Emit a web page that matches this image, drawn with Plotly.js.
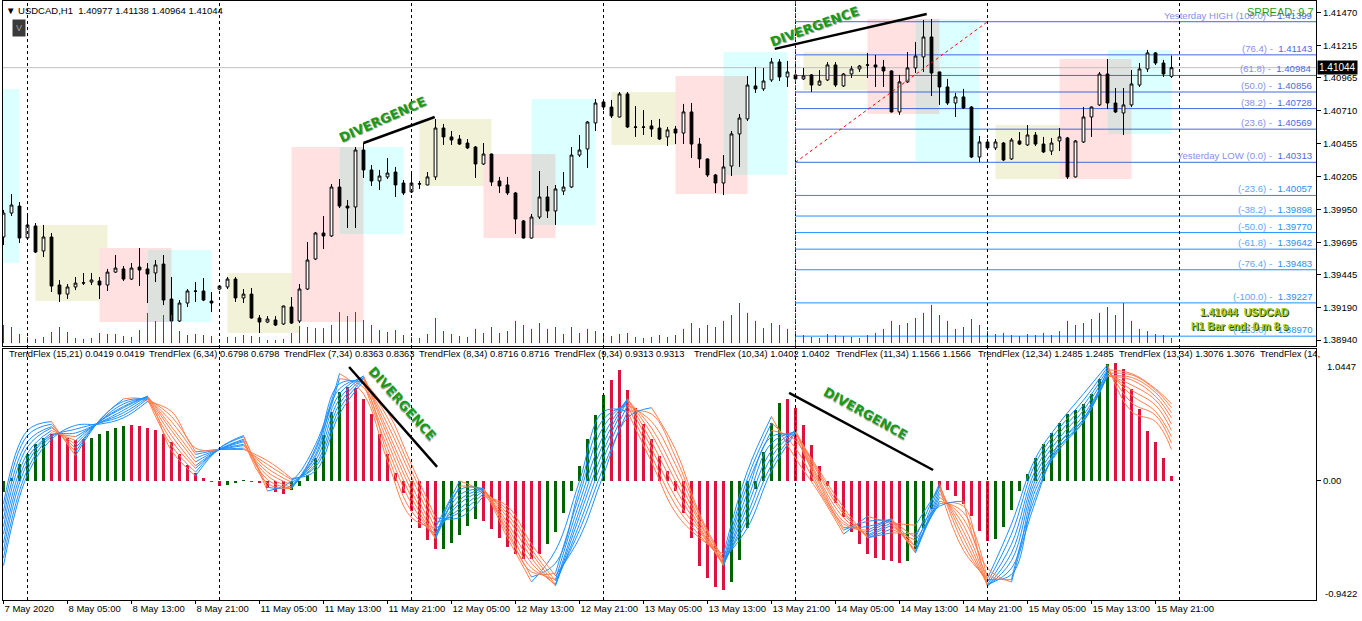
<!DOCTYPE html>
<html>
<head>
<meta charset="utf-8">
<script src="https://cdn.plot.ly/plotly-3.0.1.min.js"></script>
<style>
html,body{margin:0;padding:0;background:#fff;}
#chart{width:1362px;height:621px;}
</style>
</head>
<body>
<div id="chart"></div>
<script>
// ---------------- DATA ----------------
const symbolTitle = '\u25BC USDCAD,H1  1.40977 1.41138 1.40964 1.41044';
const lastPrice = 1.41044;
const spreadText = 'SPREAD: 9.7';
const infoLine1 = '1.41044  USDCAD';
const infoLine2 = 'H1 Bar end: 0 m 8 s';

const barOpen = [1.39736,1.39921,1.39975,1.39728,1.39821,1.39628,1.39736,1.39365,1.39295,1.39350,
1.39380,1.39388,1.39396,1.39365,1.39465,1.39489,1.39411,1.39504,1.39489,1.39458,
1.39527,1.39257,1.39087,1.39226,1.39319,1.39319,1.39241,1.39334,1.39350,1.39411,
1.39265,1.39295,1.39110,1.39079,1.39095,1.39064,1.39195,1.39087,1.39334,1.39566,
1.39767,1.39744,1.40122,1.39975,1.39968,1.40408,1.40254,1.40169,1.40200,1.40238,
1.40153,1.40084,1.40145,1.40138,1.40200,1.40578,1.40509,1.40493,1.40462,1.40431,
1.40300,1.40377,1.40169,1.40138,1.40076,1.39860,1.39728,1.39890,1.40045,1.39937,
1.40091,1.40122,1.40369,1.40416,1.40617,1.40779,1.40740,1.40663,1.40841,1.40586,
1.40586,1.40594,1.40578,1.40509,1.40570,1.40539,1.40702,1.40454,1.40339,1.40215,
1.40153,1.40284,1.40532,1.40648,1.40903,1.40880,1.40949,1.41088,1.40972,1.40988,
1.40957,1.40988,1.40910,1.40949,1.41065,1.40903,1.40995,1.41034,1.41063,1.41065,
1.41049,1.41019,1.40702,1.40934,1.41042,1.41127,1.41281,1.41011,1.40895,1.40771,
1.40818,1.40740,1.40354,1.40470,1.40424,1.40462,1.40339,1.40478,1.40447,1.40524,
1.40454,1.40400,1.40478,1.40501,1.40200,1.40470,1.40663,1.40756,1.40995,1.40771,
1.40694,1.40756,1.40910,1.41034,1.41158,1.41080,1.40977];
const barHigh = [1.39945,1.40068,1.40006,1.39898,1.39844,1.39829,1.39767,1.39404,1.39373,1.39427,
1.39458,1.39458,1.39427,1.39489,1.39597,1.39512,1.39535,1.39651,1.39535,1.39558,
1.39597,1.39427,1.39249,1.39334,1.39388,1.39419,1.39311,1.39365,1.39427,1.39427,
1.39334,1.39342,1.39133,1.39125,1.39125,1.39206,1.39272,1.39373,1.39697,1.39775,
1.39898,1.40145,1.40184,1.40022,1.40431,1.40462,1.40292,1.40254,1.40346,1.40277,
1.40176,1.40246,1.40169,1.40238,1.40648,1.40609,1.40555,1.40524,1.40493,1.40439,
1.40462,1.40380,1.40200,1.40200,1.40084,1.39867,1.39914,1.40246,1.40130,1.40138,
1.40238,1.40431,1.40524,1.40632,1.40802,1.40802,1.40795,1.40856,1.40856,1.40748,
1.40717,1.40640,1.40648,1.40586,1.40594,1.40764,1.40771,1.40501,1.40342,1.40223,
1.40369,1.40555,1.40686,1.40980,1.41049,1.41042,1.41119,1.41111,1.41096,1.41065,
1.41042,1.40995,1.41026,1.41088,1.41088,1.41003,1.41057,1.41065,1.41158,1.41142,
1.41104,1.41022,1.40988,1.41165,1.41243,1.41413,1.41420,1.41013,1.40957,1.40849,
1.40880,1.40748,1.40516,1.40493,1.40493,1.40470,1.40501,1.40547,1.40601,1.40547,
1.40509,1.40501,1.40578,1.40509,1.40485,1.40740,1.40745,1.41011,1.41111,1.40887,
1.40887,1.41026,1.41080,1.41181,1.41165,1.41104,1.41138];
const barLow = [1.39674,1.39898,1.39690,1.39713,1.39612,1.39581,1.39311,1.39234,1.39257,1.39326,
1.39365,1.39365,1.39257,1.39319,1.39458,1.39396,1.39404,1.39357,1.39226,1.39388,
1.39210,1.39071,1.39079,1.39195,1.39234,1.39241,1.39156,1.39326,1.39334,1.39234,
1.39226,1.39105,1.38994,1.39071,1.39048,1.39056,1.39064,1.39071,1.39326,1.39558,
1.39643,1.39736,1.39960,1.39805,1.39805,1.40192,1.40130,1.40099,1.40184,1.40045,
1.40060,1.40076,1.40107,1.40136,1.40176,1.40447,1.40447,1.40447,1.40416,1.40192,
1.40292,1.40130,1.40076,1.40060,1.39759,1.39724,1.39724,1.39875,1.39883,1.39829,
1.40060,1.40114,1.40354,1.40269,1.40555,1.40717,1.40655,1.40660,1.40578,1.40509,
1.40524,1.40509,1.40485,1.40439,1.40454,1.40454,1.40346,1.40269,1.40200,1.40076,
1.40060,1.40207,1.40277,1.40632,1.40849,1.40864,1.40934,1.40941,1.40895,1.40934,
1.40949,1.40856,1.40903,1.40941,1.40895,1.40895,1.40964,1.41011,1.40964,1.40895,
1.40895,1.40698,1.40679,1.40926,1.41003,1.41011,1.40825,1.40756,1.40756,1.40663,
1.40725,1.40346,1.40315,1.40416,1.40408,1.40323,1.40331,1.40447,1.40439,1.40439,
1.40385,1.40369,1.40400,1.40184,1.40196,1.40462,1.40509,1.40748,1.40725,1.40694,
1.40524,1.40740,1.40895,1.41011,1.41065,1.40972,1.40964];
const barClose = [1.39921,1.39983,1.39728,1.39829,1.39620,1.39736,1.39357,1.39295,1.39350,1.39380,
1.39382,1.39404,1.39365,1.39465,1.39496,1.39411,1.39496,1.39481,1.39450,1.39520,
1.39249,1.39087,1.39226,1.39319,1.39317,1.39249,1.39226,1.39357,1.39411,1.39265,
1.39295,1.39110,1.39079,1.39102,1.39056,1.39203,1.39071,1.39334,1.39558,1.39767,
1.39744,1.40122,1.39975,1.39960,1.40408,1.40254,1.40169,1.40207,1.40230,1.40138,
1.40076,1.40153,1.40147,1.40200,1.40578,1.40509,1.40485,1.40454,1.40424,1.40300,
1.40377,1.40161,1.40130,1.40076,1.39875,1.39728,1.39890,1.40045,1.39937,1.40107,
1.40122,1.40369,1.40408,1.40624,1.40771,1.40740,1.40671,1.40841,1.40586,1.40584,
1.40584,1.40570,1.40493,1.40563,1.40539,1.40702,1.40454,1.40339,1.40215,1.40153,
1.40277,1.40532,1.40655,1.40910,1.40880,1.40941,1.41088,1.40972,1.41011,1.40957,
1.40980,1.40910,1.40941,1.41065,1.40910,1.40995,1.41034,1.41057,1.41065,1.41049,
1.41019,1.40702,1.40934,1.41042,1.41134,1.41281,1.41003,1.40895,1.40771,1.40818,
1.40733,1.40354,1.40470,1.40424,1.40470,1.40331,1.40485,1.40454,1.40524,1.40454,
1.40393,1.40462,1.40509,1.40200,1.40478,1.40663,1.40740,1.40995,1.40771,1.40702,
1.40756,1.40918,1.41034,1.41158,1.41080,1.40995,1.41044];
const tickVolume = [1080,960,540,360,240,360,660,960,660,300,
240,300,600,540,540,420,360,780,1800,1320,
1680,1680,720,480,540,480,420,180,360,360,
480,420,360,180,180,240,600,1020,960,900,
900,1080,1860,1620,1860,1380,1080,780,660,780,
480,360,300,540,1500,720,540,420,360,840,
600,960,600,720,1320,1080,840,1200,840,960,
540,960,600,840,720,480,420,540,600,360,
300,360,480,360,480,840,1200,900,1080,960,
1320,1680,2400,1800,1320,900,1200,1080,840,600,
480,360,300,540,480,420,360,300,480,600,
840,1320,1080,1200,1500,1800,2280,1680,1320,840,
960,1440,1080,720,540,600,480,420,540,480,
600,480,720,1320,1080,1200,1440,1800,2160,1680,
2400,1320,840,720,540,480,300];

const timeTickBars = [0,8,16,24,32,40,48,56,64,72,80,88,96,104,112,120,128,136,144];
const timeTickLabels = ['7 May 2020','8 May 05:00','8 May 13:00','8 May 21:00','11 May 05:00','11 May 13:00',
'11 May 21:00','12 May 05:00','12 May 13:00','12 May 21:00','13 May 05:00','13 May 13:00','13 May 21:00',
'14 May 05:00','14 May 13:00','14 May 21:00','15 May 05:00','15 May 13:00','15 May 21:00'];
const priceTicks = [1.41470,1.41215,1.40965,1.40710,1.40455,1.40205,1.39950,1.39695,1.39445,1.39190,1.38940];
const priceTickLabels = ['1.41470','1.41215','1.40965','1.40710','1.40455','1.40205','1.39950','1.39695','1.39445','1.39190','1.38940'];
const daySeparatorBars = [3,27,51,75,99,123,147];

// session boxes
const sessionKind  = ['ny','asia','london','ny','asia','london','ny','asia','london','ny','asia','london','ny','asia','london','ny','asia','london','ny'];
const sessionStart = [-6,4,12,18,28,36,42,52,60,66,76,84,90,100,108,114,124,132,138];
const sessionEnd   = [2,13,21,26,37,45,50,61,69,74,85,93,98,109,117,122,133,141,146];
const sessionHigh  = [1.40880,1.39829,1.39651,1.39635,1.39458,1.40431,1.40431,1.40648,1.40377,1.40802,1.40856,1.40980,1.41165,1.41165,1.41420,1.41420,1.40601,1.41111,1.41181];
const sessionLow   = [1.39535,1.39241,1.39079,1.39079,1.38994,1.39079,1.39759,1.40130,1.39728,1.39829,1.40447,1.40068,1.40215,1.40872,1.40686,1.40323,1.40184,1.40184,1.40532];

// yesterday fibo
const fibLevels = [100,76.4,61.8,50,38.2,23.6,0,-23.6,-38.2,-50,-61.8,-76.4,-100,-123.6];
const fibPrices = [1.41399,1.41143,1.40984,1.40856,1.40728,1.40569,1.40313,1.40057,1.39898,1.39770,1.39642,1.39483,1.39227,1.38970];
const fibStartBar = 99;
const fibDiagEndBar = 123;

// divergence trend lines [bar0, value0, bar1, value1]
const priceDivergence = [[45.0,1.40462,53.9,1.40663],[96.4,1.41189,115.4,1.41459]];
const oscDivergence = [[43.2,0.902,54.2,0.111],[98.2,0.697,116.2,0.087]];
const priceDivText = [[47.4,1.40640,-24],[101.4,1.41359,-20]];
const oscDivText = [[49.9,0.617,48],[107.8,0.538,29]];

// TrendFlex histogram (15,21)
const tfHist = [-0.084,0.021,0.132,0.216,0.296,0.338,0.375,0.375,0.343,0.322,
0.330,0.343,0.375,0.396,0.422,0.435,0.443,0.435,0.422,0.404,
0.375,0.309,0.211,0.127,0.063,0.026,-0.011,-0.040,-0.034,-0.018,
0.005,-0.005,-0.018,-0.053,-0.084,-0.100,-0.074,-0.040,0.048,0.179,
0.364,0.549,0.707,0.744,0.739,0.652,0.528,0.375,0.216,0.066,
-0.092,-0.238,-0.369,-0.470,-0.536,-0.536,-0.488,-0.428,-0.36,-0.30,
-0.32,-0.38,-0.45,-0.52,-0.58,-0.62,-0.62,-0.58,-0.50,-0.40,
-0.25,-0.08,0.12,0.33,0.52,0.68,0.80,0.88,0.72,0.58,
0.45,0.33,0.20,0.08,-0.08,-0.25,-0.45,-0.673,-0.765,-0.839,
-0.866,-0.797,-0.625,-0.369,-0.066,0.230,0.462,0.620,0.652,0.581,
0.443,0.285,0.119,-0.040,-0.172,-0.285,-0.404,-0.501,-0.575,-0.612,
-0.628,-0.633,-0.647,-0.633,-0.541,-0.369,-0.224,-0.053,-0.074,-0.119,
-0.185,-0.277,-0.396,-0.475,-0.462,-0.362,-0.232,-0.079,0.053,0.185,
0.296,0.383,0.462,0.528,0.559,0.612,0.691,0.805,0.924,0.937,
0.884,0.726,0.567,0.396,0.309,0.185,0.0419];
const tfHistState = ('GGGGGG'+'RRRRR'+'GGGGG'+'RRRRRRRRRRRR'+'GGG'+'RRRRR'+'GGGGGGG'+'RRRRRRRRRRRR'+
  'GGGGG'+'RRRRRRRR'+'GGGGGGGG'+'RRRRRRRRRRRRRRR'+'GGGGGGG'+'RRRRRRRRRRRRRRR'+'GGGG'+'RRRRRRR'+
  'GGGGGGGGGGGGGGG'+'RRRRRRRR').split('');

// TrendFlex lines (6..14,34), sampled every 3 bars
const tfLineBars = [0,3,6,9,12,15,18,21,24,27,30,33,36,39,42,45,48,51,54,57,60,63,66,69,72,75,78,81,84,87,90,93,96,99,102,105,108,111,114,117,120,123,126,129,132,135,138,141,144,146];
const tfLine6  = [-0.18,0.40,0.47,0.20,0.48,0.65,0.63,0.24,0.04,0.26,0.36,-0.08,0.00,0.29,0.85,0.69,0.16,-0.29,-0.37,0.00,-0.10,-0.45,-0.80,-0.55,0.00,0.55,0.55,0.15,-0.25,-0.45,-0.58,0.08,0.51,0.18,-0.10,-0.42,-0.28,-0.33,-0.35,-0.05,-0.55,-0.77,-0.34,0.18,0.46,0.69,0.92,0.55,0.47,0.25];
const tfLine7  = [-0.24,0.36,0.45,0.23,0.48,0.63,0.65,0.28,0.07,0.26,0.35,-0.05,-0.04,0.26,0.81,0.74,0.21,-0.24,-0.42,-0.04,-0.08,-0.42,-0.76,-0.65,-0.06,0.49,0.60,0.20,-0.19,-0.43,-0.62,0.02,0.46,0.26,-0.08,-0.39,-0.32,-0.31,-0.45,-0.02,-0.50,-0.80,-0.42,0.14,0.42,0.64,0.90,0.62,0.52,0.30];
const tfLine8  = [-0.30,0.31,0.43,0.26,0.47,0.61,0.66,0.32,0.10,0.25,0.33,-0.02,-0.06,0.24,0.77,0.78,0.26,-0.18,-0.45,-0.07,-0.06,-0.39,-0.72,-0.73,-0.11,0.43,0.63,0.26,-0.13,-0.40,-0.65,-0.03,0.40,0.32,-0.06,-0.37,-0.36,-0.30,-0.52,-0.04,-0.45,-0.82,-0.50,0.09,0.38,0.60,0.88,0.68,0.55,0.35];
const tfLine9  = [-0.36,0.27,0.42,0.29,0.47,0.59,0.67,0.36,0.12,0.25,0.32,0.01,-0.06,0.21,0.73,0.81,0.31,-0.13,-0.46,-0.11,-0.06,-0.36,-0.69,-0.78,-0.17,0.36,0.65,0.31,-0.06,-0.38,-0.66,-0.09,0.35,0.36,-0.03,-0.34,-0.39,-0.30,-0.56,-0.07,-0.40,-0.83,-0.57,0.05,0.34,0.56,0.86,0.72,0.60,0.40];
const tfLine10 = [-0.42,0.22,0.40,0.32,0.47,0.58,0.67,0.40,0.15,0.25,0.31,0.04,-0.05,0.19,0.69,0.83,0.36,-0.08,-0.45,-0.15,-0.06,-0.33,-0.65,-0.82,-0.23,0.30,0.65,0.37,0.00,-0.36,-0.67,-0.15,0.30,0.39,-0.01,-0.32,-0.41,-0.31,-0.57,-0.10,-0.35,-0.83,-0.63,0.01,0.30,0.52,0.84,0.76,0.64,0.45];
const tfLine11 = [-0.49,0.18,0.38,0.35,0.46,0.56,0.67,0.43,0.18,0.25,0.29,0.07,-0.03,0.16,0.65,0.83,0.40,-0.03,-0.42,-0.18,-0.07,-0.29,-0.61,-0.83,-0.28,0.24,0.64,0.42,0.06,-0.33,-0.67,-0.20,0.24,0.40,0.01,-0.29,-0.43,-0.33,-0.55,-0.13,-0.30,-0.82,-0.69,-0.03,0.27,0.49,0.83,0.80,0.67,0.50];
const tfLine12 = [-0.55,0.14,0.36,0.38,0.46,0.54,0.66,0.47,0.21,0.25,0.28,0.10,-0.01,0.13,0.61,0.82,0.45,0.03,-0.38,-0.22,-0.08,-0.26,-0.57,-0.82,-0.34,0.18,0.60,0.47,0.13,-0.31,-0.66,-0.26,0.19,0.40,0.04,-0.26,-0.44,-0.35,-0.52,-0.16,-0.25,-0.78,-0.74,-0.07,0.25,0.47,0.83,0.82,0.70,0.54];
const tfLine13 = [-0.61,0.09,0.35,0.41,0.46,0.52,0.65,0.51,0.23,0.25,0.26,0.13,0.01,0.11,0.57,0.81,0.50,0.08,-0.33,-0.25,-0.10,-0.23,-0.54,-0.79,-0.39,0.11,0.55,0.53,0.19,-0.28,-0.64,-0.31,0.13,0.39,0.06,-0.24,-0.45,-0.38,-0.47,-0.18,-0.20,-0.74,-0.78,-0.12,0.27,0.47,0.85,0.84,0.72,0.58];
const tfLine14 = [-0.67,0.05,0.33,0.44,0.45,0.50,0.63,0.55,0.26,0.25,0.25,0.16,0.02,0.08,0.53,0.79,0.55,0.13,-0.29,-0.29,-0.12,-0.20,-0.50,-0.75,-0.45,0.05,0.50,0.58,0.25,-0.26,-0.62,-0.37,0.08,0.38,0.08,-0.21,-0.45,-0.41,-0.42,-0.20,-0.16,-0.69,-0.80,-0.16,0.30,0.49,0.88,0.85,0.73,0.61];
const tfLegend = ['TrendFlex (15,21) 0.0419 0.0419','TrendFlex (6,34) 0.6798 0.6798','TrendFlex (7,34) 0.8363 0.8363',
'TrendFlex (8,34) 0.8716 0.8716','TrendFlex (9,34) 0.9313 0.9313','TrendFlex (10,34) 1.0402 1.0402',
'TrendFlex (11,34) 1.1566 1.1566','TrendFlex (12,34) 1.2485 1.2485','TrendFlex (13,34) 1.3076 1.3076','TrendFlex (14,'];
const oscMax = 1.0447, oscMin = -0.9422;

// ---------------- STYLE ----------------
const FONT = 'Liberation Sans, Arial, sans-serif';
const XR = [-0.0625, 164.0625];
const YR = [1.38894, 1.41559];
const COL = {asia:'#f2f2d9', london:'#ffe1e1', ny:'#dcffff', overlap:'#dde2df'};
const legendPx = [7,147,282,417,552,692,834,976,1117,1258];
const barIdx = barOpen.map((_, i) => i);
const toPX = (px) => (px - 3) / 1313;
const toPY = (py) => (600 - py) / 599;

const traces = [];
traces.push({type:'bar', x:barIdx, y:tickVolume, xaxis:'x', yaxis:'y3', width:0.14,
  marker:{color:'#008000', line:{width:0}}, hoverinfo:'skip', showlegend:false});
traces.push({type:'candlestick', x:barIdx, open:barOpen, high:barHigh, low:barLow, close:barClose,
  xaxis:'x', yaxis:'y', whiskerwidth:0, showlegend:false, hoverinfo:'skip',
  increasing:{line:{color:'#000', width:1}, fillcolor:'#ffffff'},
  decreasing:{line:{color:'#000', width:1}, fillcolor:'#000000'}});
traces.push({type:'bar', x:barIdx, y:tfHist, xaxis:'x2', yaxis:'y2', width:0.42,
  marker:{color:tfHistState.map(s => s === 'G' ? '#006400' : '#dc143c'), line:{width:0}},
  hoverinfo:'skip', showlegend:false});

function slopeRuns(xs, ys) {
  const up = {x:[], y:[]}, dn = {x:[], y:[]};
  let i = 0;
  while (i < ys.length - 1) {
    const rising = ys[i+1] >= ys[i];
    let j = i;
    while (j < ys.length - 1 && (ys[j+1] >= ys[j]) === rising) j++;
    const t = rising ? up : dn;
    for (let k = i; k <= j; k++) { t.x.push(xs[k]); t.y.push(ys[k]); }
    t.x.push(null); t.y.push(null);
    i = j;
  }
  return [up, dn];
}
[tfLine6,tfLine7,tfLine8,tfLine9,tfLine10,tfLine11,tfLine12,tfLine13,tfLine14].forEach(line => {
  const [up, dn] = slopeRuns(tfLineBars, line);
  [[dn,'#ff7f50'],[up,'#1e90ff']].forEach(([seg, c]) => {
    traces.push({type:'scatter', mode:'lines', x:seg.x, y:seg.y, xaxis:'x2', yaxis:'y2',
      line:{color:c, width:1, shape:'spline', smoothing:1.1}, connectgaps:false,
      hoverinfo:'skip', showlegend:false});
  });
});

const shapes = [];
sessionKind.forEach((k, i) => {
  shapes.push({type:'rect', xref:'x', yref:'y', x0:sessionStart[i], x1:sessionEnd[i],
    y0:sessionLow[i], y1:sessionHigh[i], fillcolor:COL[k], line:{width:0}, layer:'below'});
});
sessionKind.forEach((k, i) => {
  if (k !== 'london') return;
  sessionKind.forEach((k2, j) => {
    if (k2 !== 'ny') return;
    const x0 = Math.max(sessionStart[i], sessionStart[j]), x1 = Math.min(sessionEnd[i], sessionEnd[j]);
    const y0 = Math.max(sessionLow[i], sessionLow[j]), y1 = Math.min(sessionHigh[i], sessionHigh[j]);
    if (x1 > x0 && y1 > y0) shapes.push({type:'rect', xref:'x', yref:'y', x0, x1, y0, y1,
      fillcolor:COL.overlap, line:{width:0}, layer:'below'});
  });
});
shapes.push({type:'line', xref:'x', yref:'y', x0:XR[0], x1:XR[1], y0:lastPrice, y1:lastPrice,
  line:{color:'#c0c0c0', width:1}, layer:'below'});
fibLevels.forEach((lv, i) => {
  shapes.push({type:'line', xref:'x', yref:'y', x0:fibStartBar, x1:XR[1], y0:fibPrices[i], y1:fibPrices[i],
    line:{color: lv >= 0 ? '#4169e1' : '#1e90ff', width:1}, layer:'below'});
});
daySeparatorBars.forEach(b => {
  shapes.push({type:'line', xref:'x', yref:'paper', x0:b, x1:b, y0:0, y1:1,
    line:{color:'#000', width:1, dash:'3px,3px'}, layer:'above'});
});
shapes.push({type:'line', xref:'x', yref:'y', x0:fibStartBar, x1:fibStartBar, y0:YR[0], y1:YR[1],
  line:{color:'#ff0000', width:1, dash:'3px,3px'}, layer:'above'});
shapes.push({type:'line', xref:'x', yref:'y', x0:fibStartBar, x1:fibDiagEndBar,
  y0:fibPrices[fibLevels.indexOf(0)], y1:fibPrices[fibLevels.indexOf(100)],
  line:{color:'#ff0000', width:1, dash:'3px,3px'}, layer:'above'});
priceDivergence.forEach(d => shapes.push({type:'line', xref:'x', yref:'y', x0:d[0], y0:d[1], x1:d[2], y1:d[3],
  line:{color:'#000', width:2.5}, layer:'above'}));
oscDivergence.forEach(d => shapes.push({type:'line', xref:'x2', yref:'y2', x0:d[0], y0:d[1], x1:d[2], y1:d[3],
  line:{color:'#000', width:2.5}, layer:'above'}));

const annotations = [];
const divFont = {family:'DejaVu Sans, Verdana, sans-serif', size:13, color:'#169b16', weight:'bold',
  shadow:'1px 1px 1px #9a9a9a'};
priceDivText.forEach(t => annotations.push({xref:'x', yref:'y', x:t[0], y:t[1], text:'DIVERGENCE',
  textangle:t[2], showarrow:false, font:divFont}));
oscDivText.forEach(t => annotations.push({xref:'x2', yref:'y2', x:t[0], y:t[1], text:'DIVERGENCE',
  textangle:t[2], showarrow:false, font:divFont}));
fibLevels.forEach((lv, i) => {
  const name = lv === 100 ? 'Yesterday HIGH ' : (lv === 0 ? 'Yesterday LOW ' : '');
  const light = lv >= 0 ? '#8a8fe8' : '#5fa6f5';
  const dark = lv >= 0 ? '#4a6be0' : '#2b8ff5';
  annotations.push({xref:'paper', yref:'y', x:1, y:fibPrices[i], xanchor:'right', yanchor:'bottom',
    xshift:-2, yshift:-1, showarrow:false,
    text:'<span style="color:' + light + '">' + name + '(' + lv.toFixed(1) + ') - </span> ' + fibPrices[i].toFixed(5),
    font:{family:FONT, size:9.6, color:dark}});
});
annotations.push({xref:'paper', yref:'paper', x:toPX(4), y:toPY(10), xanchor:'left', yanchor:'middle',
  showarrow:false, text:symbolTitle, font:{family:FONT, size:9.5, color:'#000'}});
annotations.push({xref:'paper', yref:'paper', x:toPX(19), y:toPY(28), xanchor:'center', yanchor:'middle',
  showarrow:false, text:'V', bgcolor:'#3a3a3a', borderpad:3, font:{family:FONT, size:9, color:'#a0a0a0'}});
annotations.push({xref:'paper', yref:'paper', x:1, y:toPY(12), xanchor:'right', yanchor:'middle',
  showarrow:false, text:spreadText, font:{family:FONT, size:11, color:'#1f9a1f'}});
const infoFont = {family:FONT, size:10.5, color:'#a6c814', weight:'bold', shadow:'1px 1px 0px #204d00'};
annotations.push({xref:'paper', yref:'paper', x:toPX(1291), y:toPY(312), xanchor:'right', yanchor:'middle',
  showarrow:false, text:infoLine1, font:infoFont});
annotations.push({xref:'paper', yref:'paper', x:toPX(1291), y:toPY(326), xanchor:'right', yanchor:'middle',
  showarrow:false, text:infoLine2, font:infoFont});
tfLegend.forEach((t, i) => annotations.push({xref:'paper', yref:'paper', x:toPX(legendPx[i]), y:toPY(354),
  xanchor:'left', yanchor:'middle', showarrow:false, text:t, font:{family:FONT, size:9.3, color:'#000'}}));
annotations.push({xref:'paper', yref:'y', x:1, y:lastPrice, xanchor:'left', yanchor:'middle', xshift:1,
  showarrow:false, text:lastPrice.toFixed(5), bgcolor:'#000', borderpad:1,
  font:{family:FONT, size:10, color:'#fff'}});
annotations.push({xref:'paper', yref:'paper', x:1, y:toPY(366), xanchor:'left', yanchor:'middle', xshift:9,
  showarrow:false, text:oscMax.toFixed(4), font:{family:FONT, size:9.5, color:'#000'}});
annotations.push({xref:'paper', yref:'paper', x:1, y:toPY(593), xanchor:'left', yanchor:'middle', xshift:7,
  showarrow:false, text:oscMin.toFixed(4), font:{family:FONT, size:9.5, color:'#000'}});

const axLine = {showline:true, mirror:true, linecolor:'#000', linewidth:1, showgrid:false, zeroline:false};
const layout = {
  width:1362, height:621, margin:{l:3, r:46, t:1, b:21},
  paper_bgcolor:'#fff', plot_bgcolor:'#fff', showlegend:false, hovermode:false,
  boxgap:0.5, bargap:0,
  xaxis: Object.assign({domain:[0,1], anchor:'y', range:XR, showticklabels:false, ticks:'',
    rangeslider:{visible:false}, fixedrange:true}, axLine),
  xaxis2: Object.assign({domain:[0,1], anchor:'y2', range:XR, matches:'x', tickmode:'array',
    tickvals:timeTickBars, ticktext:timeTickLabels, ticks:'outside', ticklen:3, tickcolor:'#000',
    tickangle:0, ticklabelposition:'outside right', tickfont:{family:FONT, size:9.5, color:'#000'}}, axLine),
  yaxis: Object.assign({domain:[0.42404,1], anchor:'x', side:'right', range:YR, tickmode:'array',
    tickvals:priceTicks, ticktext:priceTickLabels, ticks:'outside', ticklen:4, tickcolor:'#000',
    tickfont:{family:FONT, size:9.5, color:'#000'}}, axLine),
  yaxis3: {domain:[0.42404,1], anchor:'x', overlaying:'y', range:[-180, 20520], visible:false, fixedrange:true},
  yaxis2: Object.assign({domain:[0,0.41903], anchor:'x2', side:'right', range:[oscMin, oscMax], tickmode:'array',
    tickvals:[0], ticktext:['0.00'], ticks:'outside', ticklen:4, tickcolor:'#000',
    tickfont:{family:FONT, size:9.5, color:'#000'}}, axLine),
  shapes, annotations
};
Plotly.newPlot('chart', traces, layout, {displayModeBar:false, staticPlot:true});
</script>
</body>
</html>
